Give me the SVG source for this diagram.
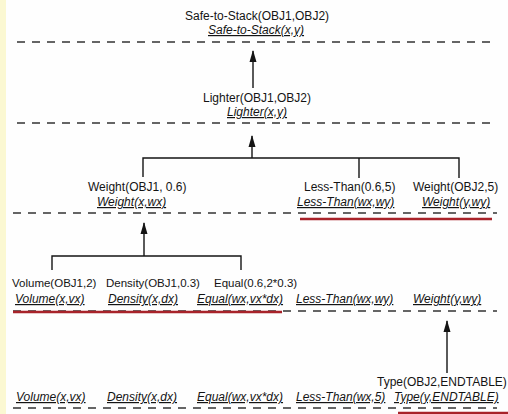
<svg xmlns="http://www.w3.org/2000/svg" width="508" height="414" viewBox="0 0 508 414">
<defs>
<style>
text{font-family:"Liberation Sans",Arial,sans-serif;font-size:12px;fill:#141414}
.p{font-style:italic;text-decoration:underline}
.s{font-size:11.5px}
.dash{stroke:#333;stroke-width:1.3;stroke-dasharray:8 7;fill:none}
.red{stroke:#a8232a;stroke-width:2.5;fill:none}
.c{stroke:#141414;stroke-width:1.4;fill:none}
</style>
<marker id="ah" markerUnits="userSpaceOnUse" markerWidth="12" markerHeight="8" viewBox="0 0 12 8" refX="11" refY="4" orient="auto">
<path d="M0 0.5 L12 4 L0 7.5 Z" fill="#141414"/>
</marker>
</defs>
<rect width="508" height="414" fill="#fefefe"/>
<rect width="6" height="414" fill="#fbf8d2"/>
<g id="levels">
<line class="dash" x1="17" y1="42" x2="495" y2="42"/>
<line class="dash" x1="17" y1="123" x2="495" y2="123"/>
<line class="dash" x1="13" y1="213" x2="497" y2="213"/>
<line class="dash" x1="13" y1="311" x2="497" y2="311"/>
<line class="dash" x1="13" y1="408" x2="497" y2="408"/>
<line class="red" x1="300" y1="219" x2="492" y2="219"/>
<line class="red" x1="13" y1="312" x2="282" y2="312"/>
<line class="red" x1="398" y1="413" x2="508" y2="413"/>
</g>
<g id="connectors">
<line class="c" x1="253" y1="88" x2="253" y2="51" marker-end="url(#ah)"/>
<line class="c" x1="252" y1="158" x2="252" y2="136" marker-end="url(#ah)"/>
<path class="c" d="M143 177 V158 H459 V178 M359 158 V178"/>
<line class="c" x1="144" y1="256" x2="144" y2="223" marker-end="url(#ah)"/>
<path class="c" d="M52 270 V256 H241 V270"/>
<line class="c" x1="447" y1="373" x2="447" y2="321" marker-end="url(#ah)"/>
</g>
<g id="safe-to-stack">
<text x="185" y="20">Safe-to-Stack(OBJ1,OBJ2)</text>
<text class="p" x="208" y="34">Safe-to-Stack(x,y)</text>
</g>
<g id="lighter">
<text x="203" y="102">Lighter(OBJ1,OBJ2)</text>
<text class="p" x="227" y="116">Lighter(x,y)</text>
</g>
<g id="weight-obj1">
<text x="88" y="191">Weight(OBJ1, 0.6)</text>
<text class="p" x="97" y="206">Weight(x,wx)</text>
</g>
<g id="less-than-1">
<text x="304" y="191">Less-Than(0.6,5)</text>
<text class="p" x="297" y="206">Less-Than(wx,wy)</text>
</g>
<g id="weight-obj2">
<text x="413" y="191">Weight(OBJ2,5)</text>
<text class="p" x="422" y="206">Weight(y,wy)</text>
</g>
<g id="volume">
<text class="s" x="12" y="287">Volume(OBJ1,2)</text>
<text class="p" x="15" y="303">Volume(x,vx)</text>
</g>
<g id="density">
<text class="s" x="106" y="287">Density(OBJ1,0.3)</text>
<text class="p" x="108" y="303">Density(x,dx)</text>
</g>
<g id="equal">
<text class="s" x="214" y="287">Equal(0.6,2*0.3)</text>
<text class="p" x="197" y="303">Equal(wx,vx*dx)</text>
</g>
<g id="less-than-2">
<text class="p" x="296" y="303">Less-Than(wx,wy)</text>
</g>
<g id="weight-y">
<text class="p" x="413" y="303">Weight(y,wy)</text>
</g>
<g id="type">
<text x="377" y="386">Type(OBJ2,ENDTABLE)</text>
<text class="p" x="394" y="401">Type(y,ENDTABLE)</text>
</g>
<g id="goal-row">
<text class="p" x="16" y="401">Volume(x,vx)</text>
<text class="p" x="107" y="401">Density(x,dx)</text>
<text class="p" x="197" y="401">Equal(wx,vx*dx)</text>
<text class="p" x="296" y="401">Less-Than(wx,5)</text>
</g>
</svg>
